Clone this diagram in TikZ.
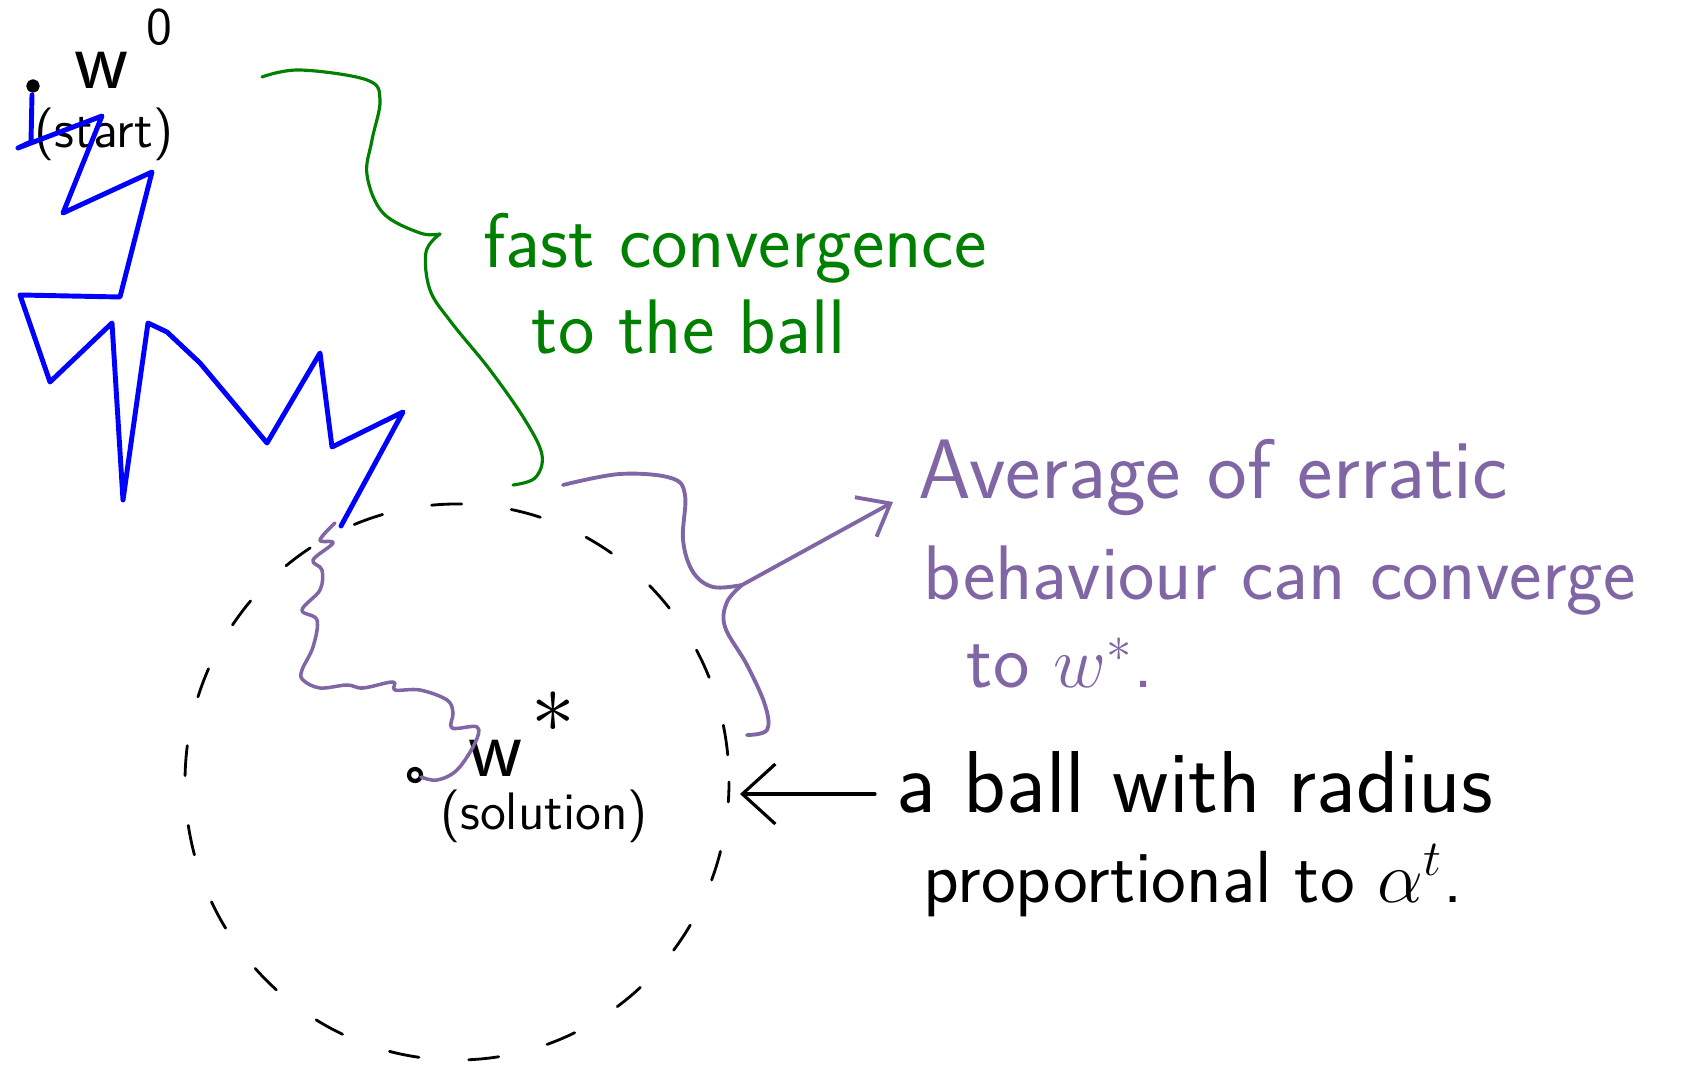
\documentclass[tikz,border=0pt]{standalone}
\usepackage{amsmath}
\usepackage{tikz}
\usepackage{xcolor}
\usetikzlibrary{arrows.meta}
\definecolor{stepblue}{RGB}{0,0,255}
\definecolor{fastgreen}{RGB}{0,128,0}
\definecolor{avgpurple}{RGB}{128,102,164}

\begin{document}
\begin{tikzpicture}[x=0.01cm,y=-0.01cm,font=\sffamily,line cap=round,line join=round,
  note/.style={inner sep=0pt,anchor=base west,font=\sffamily\fontsize{22}{26}\selectfont}]
\useasboundingbox (0,0) rectangle (1683,1065);
% the ball
\draw[line width=0.8pt,dash pattern=on 0.3cm off 0.5cm,dash phase=0.1cm](457,782)ellipse[x radius=272,y radius=278];
% start and solution
\draw[line width=1pt,fill](33,86)circle[radius=5];
\node[inner sep=0pt,font=\sffamily\fontsize{24}{28}\selectfont](w0)at(102,70){w};
\node[inner sep=0pt,font=\sffamily\fontsize{15}{18}\selectfont](w0sup)at(159,27){0};
\node[inner sep=0pt,font=\sffamily\fontsize{15}{18}\selectfont](start)at(104,134){(start)};
\draw[line width=1.2pt](415,775)circle[radius=6];
\node[inner sep=0pt,font=\sffamily\fontsize{24}{28}\selectfont](ws)at(496,758){w};
\node[inner sep=0pt,font=\fontsize{28}{32}\selectfont](wsup)at(553,712){$\ast$};
\node[inner sep=0pt,font=\sffamily\fontsize{15}{18}\selectfont](sol)at(544,816){(solution)};
% gradient steps
\draw[stepblue,line width=1.4pt](32,95)--(31,142)--(18,148)--(102,116)--(63,213)--(152,172)--(120,297)--(20,295)
  --(50,382)--(112,323)--(123,500)--(148,323)--(167,332)--(200,363)--(267,443)--(320,353)--(332,447)--(403,412)--(341,526);
% averaged path
\draw[avgpurple,line width=1pt]plot[smooth,tension=0.6]coordinates{(335,523)(320,540)(333,543)(313,560)(322,570)(320,590)
  (302,610)(317,620)(313,647)(302,670)(303,680)(320,688)(347,685)(363,688)(393,682)(395,690)(420,690)(447,700)
  (453,713)(452,728)(477,727)(475,743)(457,770)(437,780)(421,777)};
% green brace
\draw[fastgreen,line width=0.9pt]plot[smooth,tension=0.6]coordinates{(262,77)(300,70)(367,80)(380,100)(372,140)(367,175)
  (383,213)(420,233)(440,234)};
\draw[fastgreen,line width=0.9pt]plot[smooth,tension=0.6]coordinates{(440,234)(426,252)(430,290)(451,322)(490,370)
  (525,420)(542,455)(535,478)(513,485)};
\node[note,text=fastgreen](fast)at(483,268){fast convergence};
\node[note,text=fastgreen](ball)at(531,354){to the ball};
% purple brace and arrow
\draw[avgpurple,line width=1.1pt]plot[smooth,tension=0.6]coordinates{(563,485)(620,474)(671,478)(685,495)(683,540)
  (693,572)(713,587)(742,585)};
\draw[avgpurple,line width=1.1pt]plot[smooth,tension=0.6]coordinates{(742,585)(727,602)(725,627)(747,665)(765,705)
  (767,730)(747,735)};
\node[note,text=avgpurple,font=\sffamily\fontsize{24}{28}\selectfont](avg)at(918,499){Average of erratic};
\node[note,text=avgpurple](behav)at(923,600){behaviour can converge};
\node[note,text=avgpurple](tows)at(966,688){to $w^{*}$.};
\coordinate(btip)at(742,585);
\draw[avgpurple,line width=1.1pt,-{Straight Barb[length=0.28cm,width=0.45cm]}](btip)--([shift={(-25,3)}]avg.base west);
% radius note
\node[note,font=\sffamily\fontsize{25}{29}\selectfont](radius)at(896,812){a ball with radius};
\node[note,font=\sffamily\fontsize{21}{25}\selectfont](prop)at(923,902){proportional to $\alpha^{t}$.};
\coordinate(rim)at(740,794);
\draw[line width=0.9pt,-{Straight Barb[length=0.33cm,width=0.6cm]}]([shift={(-21,-18)}]radius.base west)--(rim);
\end{tikzpicture}
\end{document}
